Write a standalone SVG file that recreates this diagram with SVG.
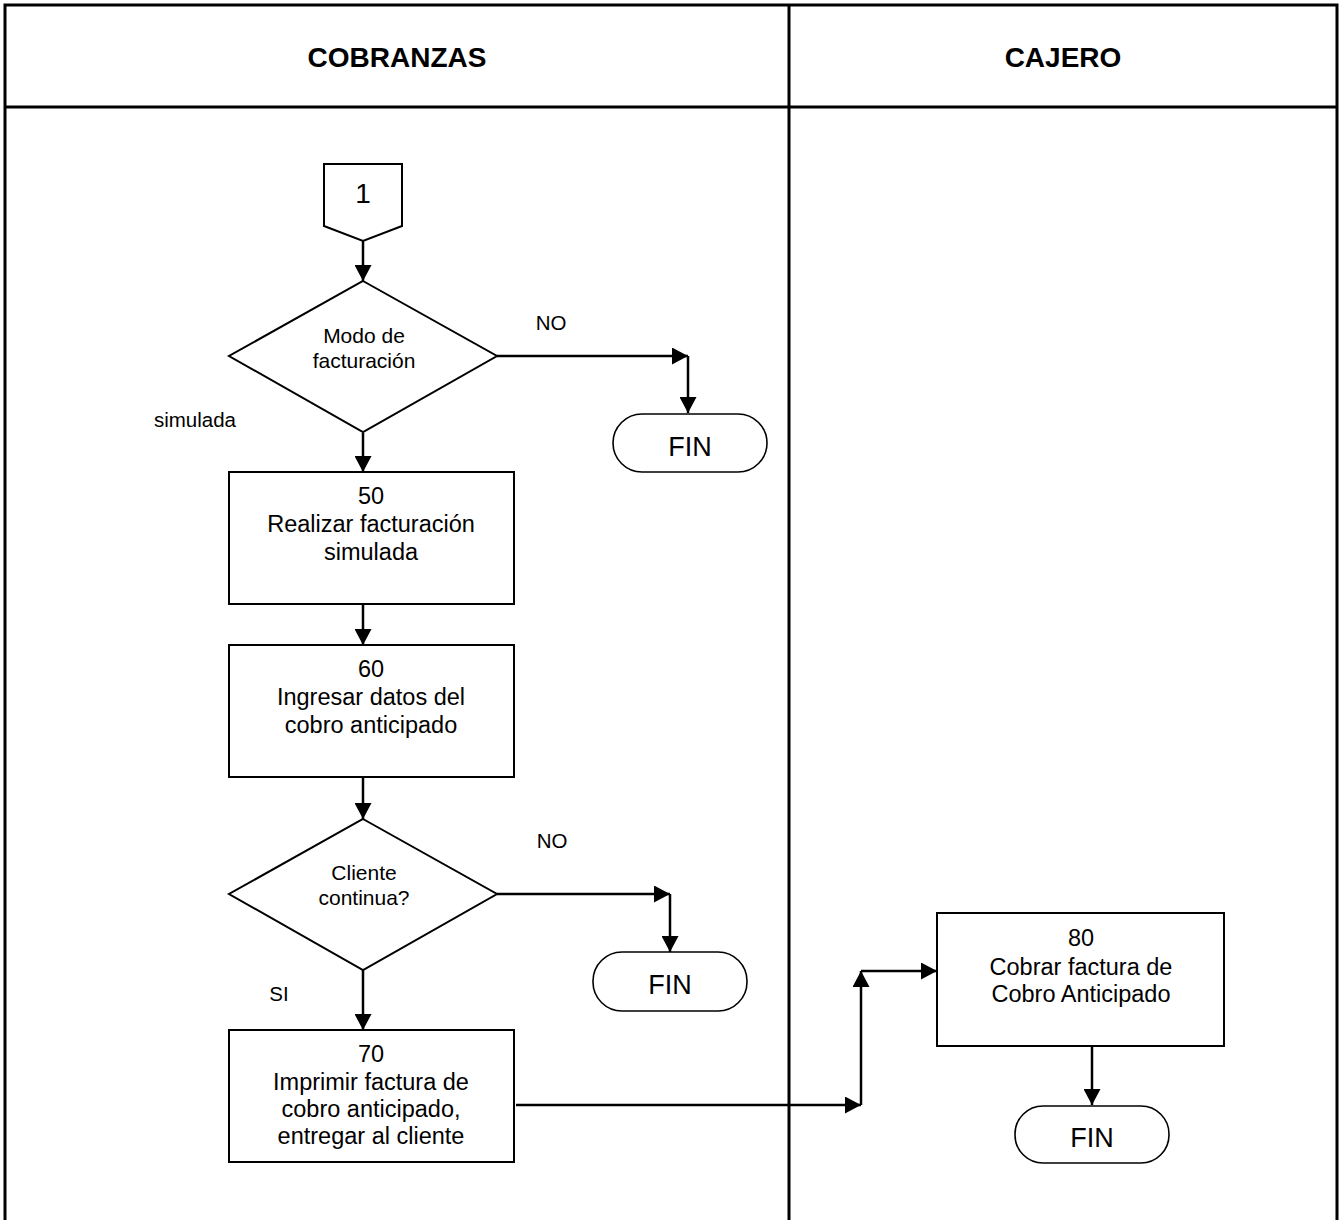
<svg xmlns="http://www.w3.org/2000/svg" width="1342" height="1220" viewBox="0 0 1342 1220">
<style>
text{font-family:"Liberation Sans",Arial,sans-serif;fill:#000;text-anchor:middle}
.hdr{font-size:28px;font-weight:bold}
.box{font-size:23.5px}
.dia{font-size:21px}
.lbl{font-size:20.5px}
.fin{font-size:27px}
.shape{fill:#fff;stroke:#000;stroke-width:2}
.term{fill:#fff;stroke:#000;stroke-width:1.6}
.grid{stroke:#000;stroke-width:3;fill:none}
.conn{stroke:#000;stroke-width:2.5;fill:none;marker-end:url(#ah)}
</style>
<defs>
<marker id="ah" markerUnits="userSpaceOnUse" markerWidth="17" markerHeight="17" refX="16" refY="8.5" orient="auto">
<path d="M0,0 L16,8.5 L0,17 z" fill="#000"/>
</marker>
</defs>
<rect width="1342" height="1220" fill="#fff"/>
<g id="table">
<path class="grid" d="M5,1220 V5 H1337 V1220 M5,107 H1337 M789,5 V1220"/>
<text class="hdr" x="397" y="67">COBRANZAS</text>
<text class="hdr" x="1063" y="67">CAJERO</text>
</g>
<g id="connectors">
<path class="conn" d="M363,241 V281"/>
<path class="conn" d="M497,356 H688"/>
<path class="conn" d="M688,356 V413"/>
<path class="conn" d="M363,433 V472"/>
<path class="conn" d="M363,604 V645"/>
<path class="conn" d="M363,777 V819"/>
<path class="conn" d="M497,894 H670"/>
<path class="conn" d="M670,894 V952"/>
<path class="conn" d="M363,970 V1030"/>
<path class="conn" d="M516,1105 H861"/>
<path class="conn" d="M861,1105 V971"/>
<path class="conn" d="M861,971 H937"/>
<path class="conn" d="M1092,1046 V1105"/>
</g>
<g id="n1">
<path class="shape" d="M324,164 H402 V226 L363,241 L324,226 Z"/>
<text x="363" y="203" style="font-size:28px">1</text>
</g>
<g id="d1">
<path class="shape" d="M363,281 L497,356 L363,432 L229,356 Z"/>
<text class="dia" x="364" y="343">Modo de</text>
<text class="dia" x="364" y="368">facturación</text>
</g>
<g id="lbl-no1"><text class="lbl" x="551" y="330">NO</text></g>
<g id="lbl-sim"><text class="lbl" x="195" y="427">simulada</text></g>
<g id="fin1">
<rect class="term" x="613" y="414" width="154" height="58" rx="29"/>
<text class="fin" x="690" y="456">FIN</text>
</g>
<g id="b50">
<rect class="shape" x="229" y="472" width="285" height="132"/>
<text class="box" x="371" y="504">50</text>
<text class="box" x="371" y="532">Realizar facturación</text>
<text class="box" x="371" y="560">simulada</text>
</g>
<g id="b60">
<rect class="shape" x="229" y="645" width="285" height="132"/>
<text class="box" x="371" y="677">60</text>
<text class="box" x="371" y="705">Ingresar datos del</text>
<text class="box" x="371" y="733">cobro anticipado</text>
</g>
<g id="d2">
<path class="shape" d="M363,819 L497,894 L363,970 L229,894 Z"/>
<text class="dia" x="364" y="880">Cliente</text>
<text class="dia" x="364" y="905">continua?</text>
</g>
<g id="lbl-no2"><text class="lbl" x="552" y="848">NO</text></g>
<g id="lbl-si"><text class="lbl" x="279" y="1001">SI</text></g>
<g id="fin2">
<rect class="term" x="593" y="952" width="154" height="59" rx="29"/>
<text class="fin" x="670" y="994">FIN</text>
</g>
<g id="b70">
<rect class="shape" x="229" y="1030" width="285" height="132"/>
<text class="box" x="371" y="1062">70</text>
<text class="box" x="371" y="1090">Imprimir factura de</text>
<text class="box" x="371" y="1117">cobro anticipado,</text>
<text class="box" x="371" y="1144">entregar al cliente</text>
</g>
<g id="b80">
<rect class="shape" x="937" y="913" width="287" height="133"/>
<text class="box" x="1081" y="946">80</text>
<text class="box" x="1081" y="975">Cobrar factura de</text>
<text class="box" x="1081" y="1002">Cobro Anticipado</text>
</g>
<g id="fin3">
<rect class="term" x="1015" y="1106" width="154" height="57" rx="28"/>
<text class="fin" x="1092" y="1147">FIN</text>
</g>
</svg>
